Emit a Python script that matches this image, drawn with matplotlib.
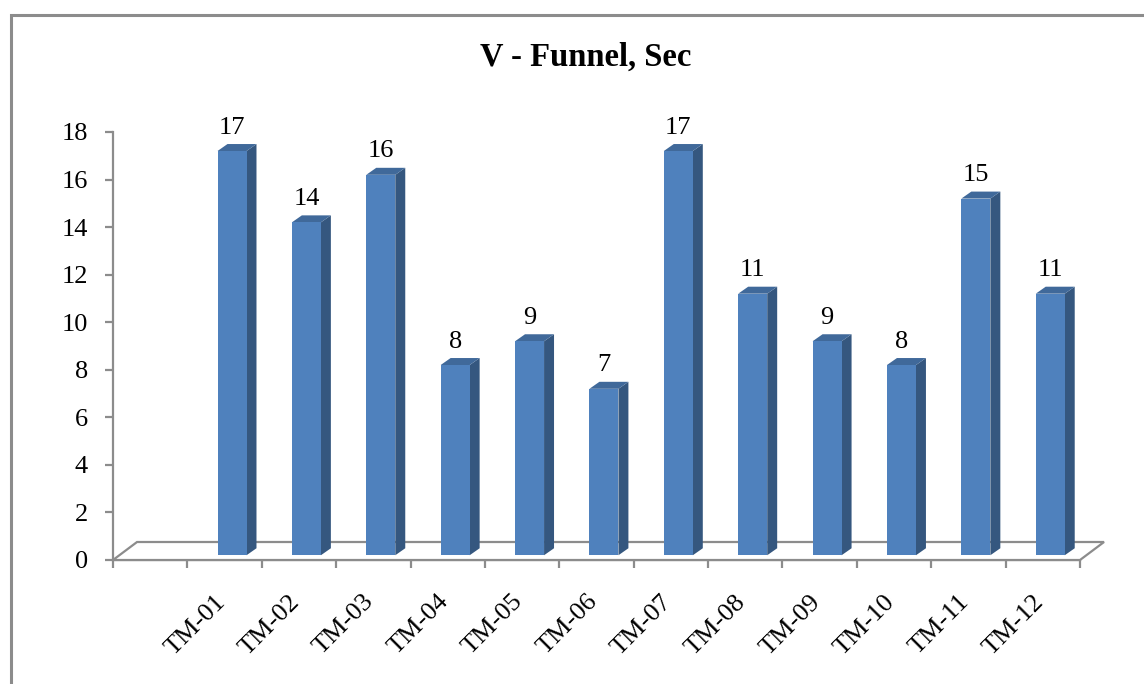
import numpy as np
import matplotlib
matplotlib.use("Agg")
import matplotlib.pyplot as plt
from matplotlib.patches import Polygon, Rectangle
from matplotlib.transforms import ScaledTranslation

# V-funnel flow times for each trial mix
mixes = ['TM-01', 'TM-02', 'TM-03', 'TM-04', 'TM-05', 'TM-06',
         'TM-07', 'TM-08', 'TM-09', 'TM-10', 'TM-11', 'TM-12']
vfunnel_sec = [17, 14, 16, 8, 9, 7, 17, 11, 9, 8, 15, 11]
yticks = [0, 2, 4, 6, 8, 10, 12, 14, 16, 18]

plt.rcParams['font.family'] = ['Liberation Serif', 'DejaVu Serif']

fig = plt.figure(figsize=(11.44, 6.84), dpi=100)
ax = fig.add_axes([113/1144, 1-560/684, 967/1144, 428/684])

# fake 3d look: column depth and floor depth in data units
base = 0.2
bw = 0.39
shift = 0.1
ddx, ddy = 0.134, 0.294
fdx, fdy = 0.323, 0.757

front_c = '#4F81BD'
side_c = '#35577F'
top_c = '#40699A'
grey = '#8C8C8C'

ax.set_xlim(0, 13)
ax.set_ylim(0, 18)

# floor
floor = Polygon([(0, 0), (13, 0), (13+fdx, fdy), (fdx, fdy)], closed=True,
                facecolor='white', edgecolor=grey, lw=1.6, clip_on=False, zorder=1)
ax.add_patch(floor)

xpos = np.arange(len(mixes)) + 1.5
for xc, v in zip(xpos, vfunnel_sec):
    x0 = xc + shift - bw/2
    x1 = x0 + bw
    top = base + v
    ax.add_patch(Polygon([(x1, base), (x1+ddx, base+ddy), (x1+ddx, top+ddy), (x1, top)],
                         closed=True, facecolor=side_c, edgecolor='none', zorder=2, clip_on=False))
    ax.add_patch(Polygon([(x0, top), (x1, top), (x1+ddx, top+ddy), (x0+ddx, top+ddy)],
                         closed=True, facecolor=top_c, edgecolor='none', zorder=2, clip_on=False))
    ax.bar(xc + shift, v, width=bw, bottom=base, color=front_c, edgecolor='none', zorder=3)
    ax.annotate(str(v), (xc + shift, top + ddy), xytext=(0, 7.5), textcoords='offset points',
                ha='center', va='baseline', fontsize=19, color='black', zorder=4)

for s in ['top', 'right']:
    ax.spines[s].set_visible(False)
for s in ['left', 'bottom']:
    ax.spines[s].set_color(grey)
    ax.spines[s].set_linewidth(1.6)
    ax.spines[s].set_zorder(0.5)

ax.set_yticks(yticks)
ax.tick_params(axis='y', direction='out', length=6, width=1.6, color=grey,
               labelsize=19, pad=12)

ax.set_xticks(np.arange(0, 14))
ax.set_xticklabels([])
ax.set_xticks(xpos, minor=True)
ax.set_xticklabels(mixes, minor=True, rotation=45, ha='right', va='top', fontsize=19)
ax.tick_params(axis='x', which='major', direction='out', length=6, width=1.6, color=grey)
ax.tick_params(axis='x', which='minor', length=0, pad=22)
nudge = ScaledTranslation(5/100, 0, fig.dpi_scale_trans)
for lbl in ax.get_xticklabels(minor=True):
    lbl.set_transform(lbl.get_transform() + nudge)
ax.patch.set_alpha(0)

fig.text(0.512, 1-66/684, 'V - Funnel, Sec', ha='center', va='baseline',
         fontsize=23.5, fontweight='bold')

# chart border
fig.patches.append(Rectangle((11/1144, -0.1), 1.2, 1.1 - 15/684, transform=fig.transFigure,
                             fill=False, edgecolor=grey, lw=2.2))

fig.savefig('out.png', dpi=100)
